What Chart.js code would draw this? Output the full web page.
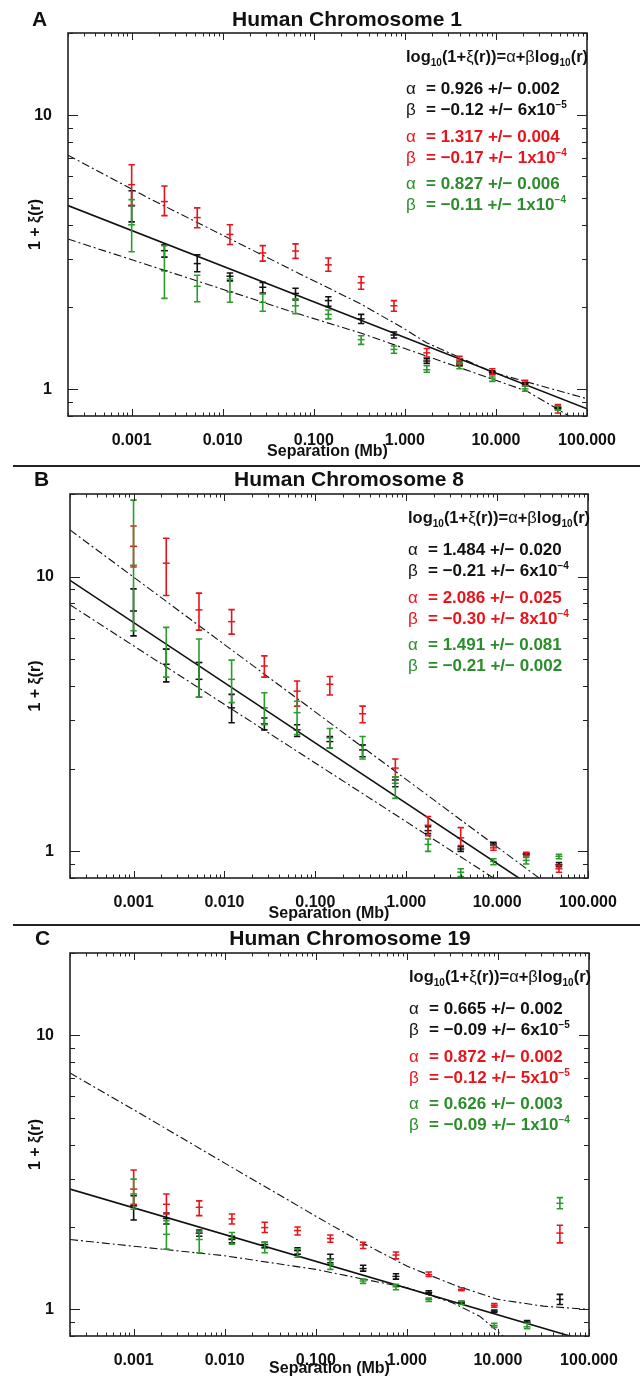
<!DOCTYPE html>
<html>
<head>
<meta charset="utf-8">
<script src="https://cdn.jsdelivr.net/npm/chart.js@4.4.0/dist/chart.umd.min.js"></script>
<style>
  body { margin: 0; background: #fff; font-family: "Liberation Sans", Arial, sans-serif; }
  #page { position: relative; width: 640px; height: 1378px; overflow: hidden; }
  .panel { position: absolute; left: 0; width: 640px; }
  .panel canvas { position: absolute; left: 0; top: 0; }
  .letter, .title { position: absolute; font-weight: bold; font-size: 21px; line-height: 24px; color: #111; white-space: nowrap; }
  .title { transform: translateX(-50%); }
  .rule { position: absolute; left: 13px; width: 627px; height: 2px; background: #222; }
  .fit { position: absolute; font-weight: bold; font-size: 17px; line-height: 20px; white-space: nowrap; }
  .fit.eq { font-size: 16.5px; }
  .fit .g { font-weight: normal; display: inline-block; width: 20px; }
  .fit sub, .fit sup { font-size: 10px; line-height: 0; }
  .k { color: #111; }
  .r { color: #e8141c; }
  .gr { color: #2a8c2a; }
</style>
</head>
<body>
<div id="page">
  <div class="rule" style="top:465px"></div>
  <div class="rule" style="top:924px"></div>
</div>
<script>
// separation bins (Mb), shared by all three panels
const xBins = [0.001, 0.00229, 0.00525, 0.012, 0.0275, 0.063, 0.1445, 0.331, 0.759, 1.74, 3.98, 9.12, 20.9, 47.9];

// axis ticks
const xMajorTicks = [0.001, 0.01, 0.1, 1, 10, 100];
const xTickLabels = ['0.001', '0.010', '0.100', '1.000', '10.000', '100.000'];
const yMajorTicks = [1, 10];
const yTickLabels = ['1', '10'];

// ---- Chromosome 1 ----
const aBlackY  = [4.68, 3.21, 2.88, 2.59, 2.36, 2.24, 2.11, 1.81, 1.58, 1.27, 1.24, 1.155, 1.05, 0.86];
const aBlackHi = [5.31, 3.37, 3.10, 2.66, 2.46, 2.34, 2.18, 1.88, 1.62, 1.295, 1.26, 1.17, 1.06, 0.87];
const aBlackLo = [4.09, 3.04, 2.69, 2.49, 2.25, 2.12, 2.01, 1.74, 1.54, 1.245, 1.22, 1.14, 1.04, 0.85];
const aRedY  = [5.59, 4.85, 4.24, 3.68, 3.15, 3.20, 2.85, 2.45, 2.02, 1.36, 1.28, 1.16, 1.06, 0.85];
const aRedHi = [6.61, 5.53, 4.60, 3.99, 3.35, 3.40, 3.02, 2.58, 2.11, 1.41, 1.32, 1.19, 1.08, 0.88];
const aRedLo = [4.70, 4.31, 3.89, 3.38, 2.94, 3.01, 2.70, 2.32, 1.93, 1.31, 1.24, 1.135, 1.03, 0.82];
const aGreenY  = [3.99, 2.71, 2.38, 2.27, 2.08, 2.02, 1.88, 1.52, 1.40, 1.18, 1.22, 1.10, 1.005, 0.855];
const aGreenHi = [4.93, 3.35, 2.61, 2.53, 2.23, 2.14, 1.95, 1.57, 1.44, 1.22, 1.25, 1.12, 1.03, 0.87];
const aGreenLo = [3.18, 2.15, 2.09, 2.08, 1.93, 1.89, 1.81, 1.46, 1.355, 1.155, 1.19, 1.07, 0.985, 0.84];
const aSolidX = [0.0002, 100];
const aSolidY = [4.69, 0.85];
const aUpperX = [0.0002, 0.00158, 0.0705, 0.33, 1.0, 1.73, 9.29, 100];
const aUpperY = [7.16, 4.97, 2.64, 2.05, 1.66, 1.48, 1.154, 0.925];
const aLowerX = [0.0002, 0.0705, 0.321, 21.8, 48.4, 100];
const aLowerY = [3.54, 1.88, 1.61, 0.986, 0.845, 0.73];
const aAlpha = ['0.926 +/− 0.002', '1.317 +/− 0.004', '0.827 +/− 0.006'];
const aBeta = [['−0.12 +/− 6x10', '−5'], ['−0.17 +/− 1x10', '−4'], ['−0.11 +/− 1x10', '−4']];

// ---- Chromosome 8 ----
const bBlackY  = [7.5, 4.80, 4.23, 3.33, 2.91, 2.77, 2.51, 2.34, 1.82, 1.19, 1.02, 1.064, 0.978, 0.894];
const bBlackHi = [9.03, 5.45, 4.87, 3.73, 3.06, 2.89, 2.62, 2.44, 1.87, 1.23, 1.04, 1.08, 0.99, 0.91];
const bBlackLo = [6.09, 4.14, 3.64, 2.94, 2.77, 2.62, 2.38, 2.21, 1.72, 1.16, 1.0, 1.05, 0.965, 0.88];
const bRedY  = [12.9, 11.2, 7.57, 6.86, 4.73, 3.83, 4.06, 3.17, 2.01, 1.245, 1.12, 1.03, 0.978, 0.864];
const bRedHi = [15.3, 13.8, 8.71, 7.59, 5.15, 4.17, 4.33, 3.38, 2.17, 1.34, 1.22, 1.05, 0.99, 0.889];
const bRedLo = [10.85, 8.54, 6.39, 6.18, 4.31, 3.38, 3.71, 2.94, 1.87, 1.14, 1.05, 1.01, 0.965, 0.84];
const bGreenY  = [11.0, 5.45, 4.87, 4.23, 3.33, 3.20, 2.59, 2.44, 1.77, 1.06, 0.84, 0.919, 0.927, 0.959];
const bGreenHi = [19.0, 6.54, 5.93, 4.97, 3.78, 3.52, 2.80, 2.62, 1.87, 1.11, 0.864, 0.94, 0.95, 0.975];
const bGreenLo = [6.36, 4.31, 3.64, 3.48, 2.89, 2.66, 2.38, 2.17, 1.56, 1.0, 0.81, 0.894, 0.90, 0.94];
const bSolidX = [0.0002, 100];
const bSolidY = [9.7, 0.545];
const bUpperX = [0.0002, 100];
const bUpperY = [14.8, 0.59];
const bLowerX = [0.0002, 100];
const bLowerY = [7.9, 0.48];
const bAlpha = ['1.484 +/− 0.020', '2.086 +/− 0.025', '1.491 +/− 0.081'];
const bBeta = [['−0.21 +/− 6x10', '−4'], ['−0.30 +/− 8x10', '−4'], ['−0.21 +/− 0.002', '']];

// ---- Chromosome 19 ----
const cBlackY  = [2.39, 2.15, 1.90, 1.80, 1.726, 1.64, 1.53, 1.41, 1.32, 1.154, 1.06, 0.986, 0.899, 1.088];
const cBlackHi = [2.60, 2.25, 1.95, 1.85, 1.76, 1.68, 1.59, 1.45, 1.35, 1.17, 1.07, 0.995, 0.91, 1.135];
const cBlackLo = [2.12, 2.05, 1.85, 1.75, 1.68, 1.59, 1.48, 1.38, 1.29, 1.14, 1.05, 0.975, 0.89, 1.043];
const cRedY  = [2.75, 2.42, 2.36, 2.14, 1.99, 1.94, 1.815, 1.72, 1.58, 1.34, 1.18, 1.035, null, 1.90];
const cRedHi = [3.23, 2.64, 2.49, 2.23, 2.08, 2.00, 1.87, 1.76, 1.62, 1.37, 1.20, 1.05, null, 2.03];
const cRedLo = [2.42, 2.23, 2.20, 2.05, 1.91, 1.87, 1.76, 1.67, 1.53, 1.32, 1.17, 1.02, null, 1.75];
const cGreenY  = [2.64, 1.88, 1.80, 1.815, 1.68, 1.59, 1.46, 1.27, 1.21, 1.088, 1.058, 0.874, 0.864, 2.44];
const cGreenHi = [2.99, 2.11, 1.93, 1.91, 1.76, 1.66, 1.52, 1.29, 1.235, 1.10, 1.07, 0.89, 0.89, 2.56];
const cGreenLo = [2.32, 1.66, 1.61, 1.73, 1.61, 1.55, 1.40, 1.245, 1.18, 1.07, 1.043, 0.86, 0.85, 2.33];
const cSolidX = [0.0002, 100];
const cSolidY = [2.75, 0.763];
const cUpperX = [0.0002, 0.001, 0.01, 0.1, 0.316, 1, 3.16, 10, 31.6, 100];
const cUpperY = [7.3, 5.36, 3.42, 2.19, 1.76, 1.44, 1.235, 1.088, 1.028, 1.0];
const cLowerX = [0.0002, 0.01, 0.1, 0.316, 1, 3.16, 6.3, 10, 12.6];
const cLowerY = [1.80, 1.57, 1.40, 1.295, 1.20, 1.058, 0.945, 0.83, 0.776];
const cAlpha = ['0.665 +/− 0.002', '0.872 +/− 0.002', '0.626 +/− 0.003'];
const cBeta = [['−0.09 +/− 6x10', '−5'], ['−0.12 +/− 5x10', '−5'], ['−0.09 +/− 1x10', '−4']];

const BLACK = '#111111';
const RED = '#e8141c';
const GREEN = '#2c9a2c';

// vertical error bars with caps, drawn through the chart's own scales
const errorBars = {
  id: 'errorBars',
  afterDatasetsDraw(chart) {
    const { ctx, chartArea: a, scales: { x, y } } = chart;
    ctx.save();
    ctx.beginPath();
    ctx.rect(a.left, a.top, a.right - a.left, a.bottom - a.top);
    ctx.clip();
    chart.data.datasets.forEach(ds => {
      if (!ds.hi) return;
      ctx.strokeStyle = ds.borderColor;
      ctx.lineWidth = 1.6;
      ds.data.forEach((pt, i) => {
        if (ds.hi[i] == null) return;
        const px = x.getPixelForValue(pt.x);
        const top = y.getPixelForValue(ds.hi[i]);
        const bot = y.getPixelForValue(ds.lo[i]);
        ctx.beginPath();
        ctx.moveTo(px, top); ctx.lineTo(px, bot);
        ctx.moveTo(px - 3.2, top); ctx.lineTo(px + 3.2, top);
        ctx.moveTo(px - 3.2, bot); ctx.lineTo(px + 3.2, bot);
        ctx.stroke();
      });
    });
    ctx.restore();
  }
};

// box round the plot with inward ticks on all four sides
const frame = {
  id: 'frame',
  afterDraw(chart) {
    const { ctx, chartArea: a, scales: { x, y } } = chart;
    ctx.save();
    ctx.strokeStyle = '#222';
    ctx.lineWidth = 1.6;
    ctx.strokeRect(a.left, a.top, a.right - a.left, a.bottom - a.top);
    ctx.lineWidth = 1;
    ctx.beginPath();
    x.ticks.forEach(t => {
      const px = Math.round(x.getPixelForValue(t.value)) + 0.5;
      const len = t.major ? 7 : 3.5;
      ctx.moveTo(px, a.bottom); ctx.lineTo(px, a.bottom - len);
      ctx.moveTo(px, a.top); ctx.lineTo(px, a.top + len);
    });
    y.ticks.forEach(t => {
      const py = Math.round(y.getPixelForValue(t.value)) + 0.5;
      const len = t.major ? 10 : 5;
      ctx.moveTo(a.left, py); ctx.lineTo(a.left + len, py);
      ctx.moveTo(a.right, py); ctx.lineTo(a.right - len, py);
    });
    ctx.stroke();
    ctx.restore();
  }
};

function logTicks(min, max, majors) {
  const list = [];
  for (let e = -4; e <= 2; e++) {
    for (let m = 1; m <= 9; m++) {
      const v = +(m * Math.pow(10, e)).toPrecision(3);
      if (v < min * 0.999 || v > max * 1.001) continue;
      list.push({ value: v, major: majors.some(t => Math.abs(t - v) < t * 1e-6) });
    }
  }
  return list;
}

function labelFor(value, majors, labels) {
  const i = majors.findIndex(t => Math.abs(t - value) < t * 1e-6);
  return i < 0 ? '' : labels[i];
}

function points(xs, ys) {
  return xs.map((x, i) => ({ x, y: ys[i] }));
}

function markers(color, ys, hi, lo) {
  return {
    data: points(xBins, ys), hi, lo,
    borderColor: color, backgroundColor: color,
    pointStyle: 'line', pointRadius: 3.5, borderWidth: 1.5,
    showLine: false
  };
}

function fitLine(xs, ys, dashed) {
  return {
    data: points(xs, ys), showLine: true,
    borderColor: '#111', borderWidth: dashed ? 1.1 : 1.6,
    borderDash: dashed ? [8, 3, 2, 3] : [],
    pointRadius: 0, tension: 0
  };
}

function buildPanel(p) {
  const page = document.getElementById('page');
  const box = document.createElement('div');
  box.className = 'panel';
  box.style.top = p.top + 'px';
  box.style.height = p.height + 'px';
  const canvas = document.createElement('canvas');
  canvas.width = 640;
  canvas.height = p.height;
  box.appendChild(canvas);

  box.insertAdjacentHTML('beforeend',
    `<div class="letter" style="left:${p.letterX}px;top:${p.headY - 12}px">${p.letter}</div>` +
    `<div class="title" style="left:${p.titleX}px;top:${p.headY - 12}px">${p.title}</div>`);

  // fit parameters block
  const rows = [
    ['k eq', 'log<sub>10</sub>(1+<span style="font-weight:normal">ξ</span>(r))=<span style="font-weight:normal">α</span>+<span style="font-weight:normal">β</span>log<sub>10</sub>(r)', 23]
  ];
  const cls = ['k', 'r', 'gr'];
  const offs = [[56, 77], [104, 125], [151, 172]];
  for (let i = 0; i < 3; i++) {
    rows.push([cls[i], `<span class="g">α</span>= ${p.alpha[i]}`, offs[i][0]]);
    const sup = p.beta[i][1] ? `<sup>${p.beta[i][1]}</sup>` : '';
    rows.push([cls[i], `<span class="g">β</span>= ${p.beta[i][0]}${sup}`, offs[i][1]]);
  }
  rows.forEach(([c, html, off]) => {
    box.insertAdjacentHTML('beforeend',
      `<div class="fit ${c}" style="left:${p.textX}px;top:${p.area.t + off - 10}px">${html}</div>`);
  });
  page.appendChild(box);

  new Chart(canvas.getContext('2d'), {
    type: 'scatter',
    data: {
      datasets: [
        fitLine(p.solid[0], p.solid[1], false),
        fitLine(p.upper[0], p.upper[1], true),
        fitLine(p.lower[0], p.lower[1], true),
        markers(BLACK, p.black[0], p.black[1], p.black[2]),
        markers(RED, p.red[0], p.red[1], p.red[2]),
        markers(GREEN, p.green[0], p.green[1], p.green[2])
      ]
    },
    options: {
      responsive: false,
      animation: false,
      events: [],
      layout: { padding: { top: p.area.t, left: 0, right: 640 - p.area.r, bottom: 0 } },
      plugins: { legend: { display: false }, tooltip: { enabled: false } },
      scales: {
        x: {
          type: 'logarithmic', min: 0.0002, max: 100, bounds: 'data',
          afterBuildTicks: s => { s.ticks = logTicks(0.0002, 100, xMajorTicks); },
          afterFit: s => { s.height = p.height - p.area.b; },
          grid: { display: false }, border: { display: false },
          ticks: {
            autoSkip: false, maxRotation: 0, padding: 7, color: '#111',
            font: { family: 'Liberation Sans', size: 16, weight: 'bold' },
            callback: v => labelFor(v, xMajorTicks, xTickLabels)
          },
          title: {
            display: true, text: 'Separation (Mb)', color: '#111',
            font: { family: 'Liberation Sans', size: 16, weight: 'bold' },
            padding: { top: 0, bottom: p.xTitlePad }
          }
        },
        y: {
          type: 'logarithmic', min: 0.8, max: 20, bounds: 'data',
          afterBuildTicks: s => { s.ticks = logTicks(0.8, 20, yMajorTicks); },
          afterFit: s => { s.width = p.area.l; },
          grid: { display: false }, border: { display: false },
          ticks: {
            autoSkip: false, padding: 8, color: '#111',
            font: { family: 'Liberation Sans', size: 16, weight: 'bold' },
            callback: v => labelFor(v, yMajorTicks, yTickLabels)
          },
          title: {
            display: true, text: '1 + ξ(r)', color: '#111',
            font: { family: 'Liberation Sans', size: 16, weight: 'bold' },
            padding: { top: 26, bottom: 0 }
          }
        }
      }
    },
    plugins: [errorBars, frame]
  });
}

document.addEventListener('DOMContentLoaded', () => {
  buildPanel({
    top: 0, height: 466, area: { l: 68, r: 587, t: 33, b: 416 }, xTitlePad: 5,
    letter: 'A', letterX: 32, title: 'Human Chromosome 1', titleX: 347, headY: 19, textX: 406,
    black: [aBlackY, aBlackHi, aBlackLo], red: [aRedY, aRedHi, aRedLo], green: [aGreenY, aGreenHi, aGreenLo],
    solid: [aSolidX, aSolidY], upper: [aUpperX, aUpperY], lower: [aLowerX, aLowerY],
    alpha: aAlpha, beta: aBeta
  });
  buildPanel({
    top: 466, height: 459, area: { l: 70, r: 588, t: 28, b: 412 }, xTitlePad: 2,
    letter: 'B', letterX: 34, title: 'Human Chromosome 8', titleX: 349, headY: 13, textX: 408,
    black: [bBlackY, bBlackHi, bBlackLo], red: [bRedY, bRedHi, bRedLo], green: [bGreenY, bGreenHi, bGreenLo],
    solid: [bSolidX, bSolidY], upper: [bUpperX, bUpperY], lower: [bLowerX, bLowerY],
    alpha: bAlpha, beta: bBeta
  });
  buildPanel({
    top: 925, height: 453, area: { l: 70, r: 589, t: 28, b: 411 }, xTitlePad: 0,
    letter: 'C', letterX: 35, title: 'Human Chromosome 19', titleX: 350, headY: 13, textX: 409,
    black: [cBlackY, cBlackHi, cBlackLo], red: [cRedY, cRedHi, cRedLo], green: [cGreenY, cGreenHi, cGreenLo],
    solid: [cSolidX, cSolidY], upper: [cUpperX, cUpperY], lower: [cLowerX, cLowerY],
    alpha: cAlpha, beta: cBeta
  });
});
</script>
</body>
</html>
